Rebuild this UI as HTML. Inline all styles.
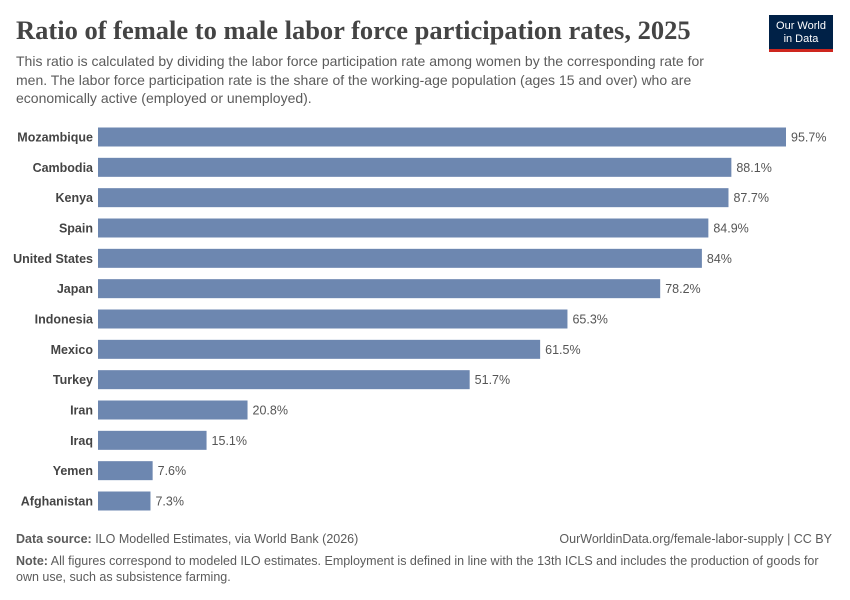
<!DOCTYPE html>
<html><head><meta charset="utf-8"><style>
body{margin:0;background:#fff;font-family:"Liberation Sans",sans-serif;}
.wrap{position:relative;width:850px;height:600px;overflow:hidden}
.t{position:absolute;white-space:nowrap}
</style></head><body>
<div class="wrap">
<div class="t" style="left:16px;top:15px;font-family:'Liberation Serif',serif;font-size:26.5px;font-weight:bold;color:#444">Ratio of female to male labor force participation rates, 2025</div>
<div class="t" style="left:16px;top:52px;font-size:14px;line-height:18.5px;color:#5b5b5b;white-space:normal;width:705px">This ratio is calculated by dividing the labor force participation rate among women by the corresponding rate for men. The labor force participation rate is the share of the working-age population (ages 15 and over) who are economically active (employed or unemployed).</div>
<div style="position:absolute;left:769px;top:15px;width:64px;height:37px;background:#002147;border-bottom:3px solid #ce261e;box-sizing:border-box;color:#fff;font-size:11px;text-align:center;line-height:13px;padding-top:5px">Our World<br>in Data</div>
<svg id="c" width="850" height="600" style="position:absolute;left:0;top:0"></svg>
<div class="t" style="left:16px;top:532px;font-size:12.5px;color:#5b5b5b"><b>Data source:</b> ILO Modelled Estimates, via World Bank (2026)</div>
<div class="t" style="right:18px;top:532px;font-size:12.5px;color:#5b5b5b">OurWorldinData.org/female-labor-supply | CC BY</div>
<div class="t" style="left:16px;top:553px;font-size:12.5px;line-height:16px;color:#5b5b5b;white-space:normal;width:820px"><b>Note:</b> All figures correspond to modeled ILO estimates. Employment is defined in line with the 13th ICLS and includes the production of goods for own use, such as subsistence farming.</div>
</div>
<script>
const categories=["Mozambique","Cambodia","Kenya","Spain","United States","Japan","Indonesia","Mexico","Turkey","Iran","Iraq","Yemen","Afghanistan"];
const values=[95.7,88.1,87.7,84.9,84,78.2,65.3,61.5,51.7,20.8,15.1,7.6,7.3];
const labels=["95.7%","88.1%","87.7%","84.9%","84%","78.2%","65.3%","61.5%","51.7%","20.8%","15.1%","7.6%","7.3%"];
const svg=document.getElementById('c');const NS="http://www.w3.org/2000/svg";
const x0=98,x1=786,maxV=95.7;
const xs=v=>x0+(v/maxV)*(x1-x0);
const y0=137,step=(501-137)/12;
const ys=i=>y0+i*step;
categories.forEach((c,i)=>{
 const y=ys(i);
 const r=document.createElementNS(NS,'rect');
 r.setAttribute('x',x0);r.setAttribute('y',y-9.5);r.setAttribute('width',xs(values[i])-x0);r.setAttribute('height',19);r.setAttribute('fill','#6d87b0');
 
 
 svg.appendChild(r);
 const t=document.createElementNS(NS,'text');
 t.setAttribute('x',x0-5);t.setAttribute('y',y+4.5);t.setAttribute('text-anchor','end');t.setAttribute('font-size','12.5');t.setAttribute('font-weight','bold');t.setAttribute('fill','#444');t.textContent=c;
 
 
 svg.appendChild(t);
 const v=document.createElementNS(NS,'text');
 v.setAttribute('x',xs(values[i])+5);v.setAttribute('y',y+4.5);v.setAttribute('font-size','12.5');v.setAttribute('fill','#555');v.textContent=labels[i];
 
 
 svg.appendChild(v);
});
</script>
</body></html>
